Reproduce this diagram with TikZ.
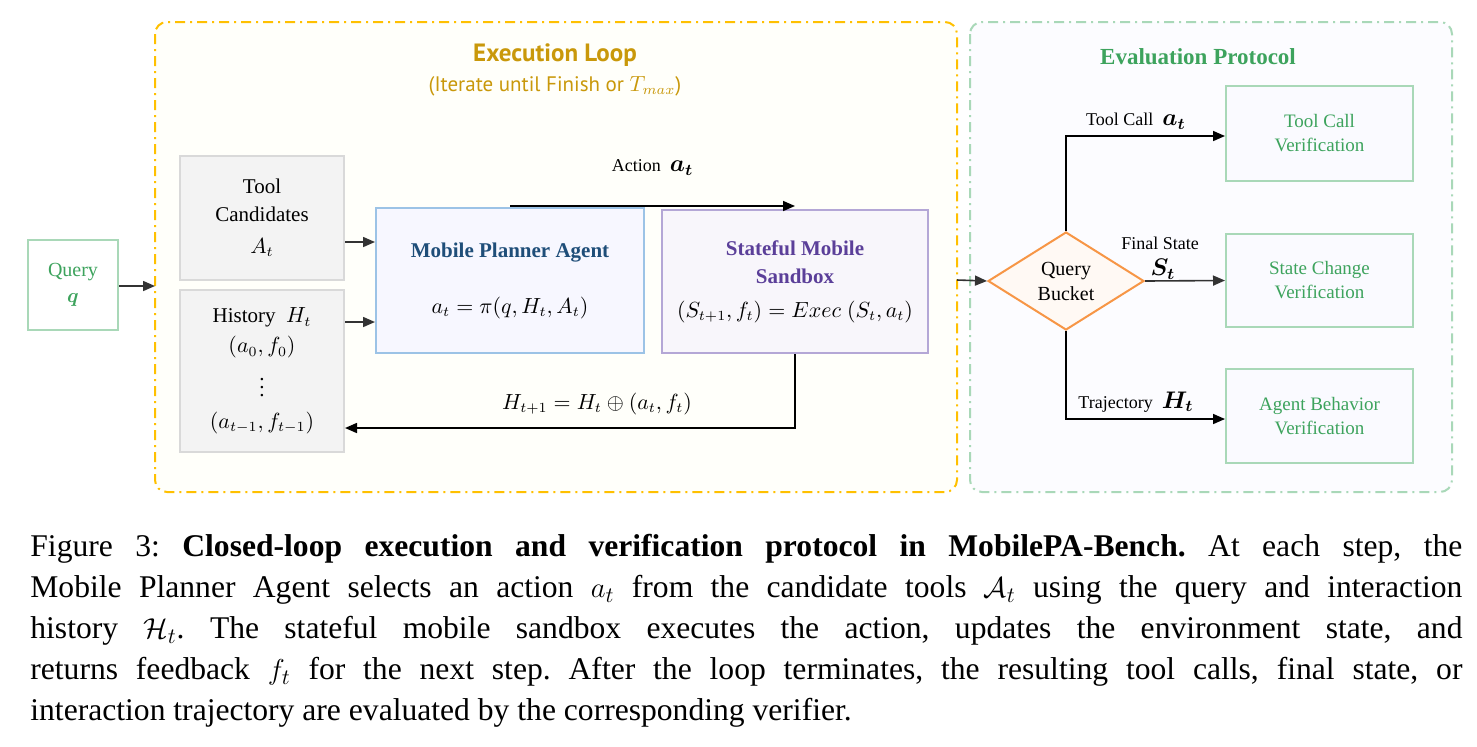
\documentclass[tikz,border=0pt]{standalone}
\usepackage{fontspec}
\usepackage{amsmath}
\setmainfont{Liberation Serif}
\newfontfamily\titlesans{PT Sans}
\usetikzlibrary{shapes.geometric,arrows.meta}
\definecolor{loopc}{HTML}{FFC000}
\definecolor{loopt}{HTML}{C9980A}
\definecolor{evalc}{HTML}{A9D8B8}
\definecolor{greent}{HTML}{3DA35D}
\definecolor{grayb}{HTML}{D9D9D9}
\definecolor{grayf}{HTML}{F3F3F3}
\definecolor{blueb}{HTML}{9CC3E6}
\definecolor{bluet}{HTML}{1F4E79}
\definecolor{purpb}{HTML}{B4A7D6}
\definecolor{purpt}{HTML}{5B3F99}
\definecolor{orng}{HTML}{F79646}
\definecolor{arr}{HTML}{333333}
\tikzset{
  box/.style={draw, line width=1pt, align=center, inner sep=2pt},
  gbox/.style={box, draw=grayb, fill=grayf, font=\fontsize{10.5}{14}\selectfont},
  vbox/.style={box, draw=evalc, fill=white!98!blue, text=greent, font=\fontsize{9.5}{12}\selectfont, minimum width=93.5pt},
  ar/.style={draw=arr, line width=0.8pt, -{Triangle[length=6pt,width=5pt]}},
  lab/.style={font=\fontsize{9}{11}\selectfont, inner sep=1pt},
  frame/.style={line width=1pt, rounded corners=6pt, dash pattern=on 5pt off 2.5pt on 1pt off 2.5pt}
}
\begin{document}
\frenchspacing
\begin{tikzpicture}[x=0.5pt,y=-0.5pt]
\useasboundingbox[fill=white] (0,0) rectangle (1477,746);
% frames
\draw[frame, draw=loopc, fill=white!98!yellow] (155,22) rectangle (957,492);
\draw[frame, draw=evalc, fill=white!99!blue] (970,22) rectangle (1452,492);
\node[text=loopt, font=\titlesans\bfseries\fontsize{12.5}{14}\selectfont] (t1) at (555,55) {Execution Loop};
\node[text=loopt, font=\titlesans\fontsize{10.5}{12}\selectfont] (t2) at (555,86) {(Iterate until Finish or $T_{max}$)};
\node[text=greent, font=\bfseries\fontsize{11.5}{14}\selectfont] (t3) at (1198,57) {Evaluation Protocol};
% nodes
\node[box, draw=evalc, fill=white, text=greent, minimum width=45pt, minimum height=45pt, font=\fontsize{10}{13}\selectfont] (q) at (73,285) {Query\\$\boldsymbol{q}$};
\node[gbox, minimum width=82pt, minimum height=62pt] (tc) at (262,218) {Tool\\Candidates\\[2pt]$A_t$};
\node[gbox, minimum width=82pt, minimum height=81pt, font=\fontsize{10.5}{15}\selectfont] (hi) at (262,371) {History\ \ $H_t$\\$(a_0,f_0)$\\[3pt]$\vdots$\\[1pt]$(a_{t-1},f_{t-1})$};
\node[box, draw=blueb, fill=white!97!blue, minimum width=134pt, minimum height=72.5pt, font=\fontsize{10.5}{14}\selectfont] (pa) at (510,280.5) {\textcolor{bluet}{\bfseries Mobile Planner Agent}\\[14pt]$a_t=\pi(q,H_t,A_t)$};
\node[box, draw=purpb, fill=purpb!10, minimum width=133pt, minimum height=71.5pt, font=\fontsize{10.5}{14}\selectfont] (sb) at (795,281.5) {\textcolor{purpt}{\bfseries Stateful Mobile}\\\textcolor{purpt}{\bfseries Sandbox}\\[3pt]$(S_{t+1},f_t)=Exec\;(S_t,a_t)$};
\node[draw=orng, line width=1pt, fill=orng!6, diamond, aspect=1.6, minimum width=78pt, minimum height=49pt, inner sep=0pt, align=center, font=\fontsize{10}{12.5}\selectfont] (qb) at (1066,281) {Query\\Bucket};
\node[vbox, minimum height=47.5pt] (v1) at (1319.5,133.5) {Tool Call\\Verification};
\node[vbox, minimum height=46.5pt] (v2) at (1319.5,280.5) {State Change\\Verification};
\node[vbox, minimum height=47pt] (v3) at (1319.5,416) {Agent Behavior\\Verification};
% loop connectors
\coordinate (lin) at (155,286);
\coordinate (lout) at (957,280);
\draw[ar] (q.east |- lin) -- (lin);
\draw[ar] (lout) -- (qb.west);
\draw[ar] (tc.east |- 0,242) -- (pa.west |- 0,242);
\draw[ar] (hi.east |- 0,322) -- (pa.west |- 0,322);
\draw[ar, draw=black] (pa.north) ++(0,-1) coordinate (a0) (a0) -- (sb.north |- a0) node[lab, pos=0.5, above=14pt, font=\fontsize{9}{11}\selectfont] (act) {Action\ \ \large$\boldsymbol{a_t}$};
\draw[ar, draw=black] (sb.south) |- (hi.east |- 0,428) node[pos=0.72, above=3pt, font=\fontsize{10.5}{12}\selectfont] (upd) {$H_{t+1}=H_t\oplus(a_t,f_t)$};
% eval connectors
\draw[ar, draw=black] (qb.north) |- (v1.west |- 0,136) node[lab, pos=0.72, above=2pt] (l1) {Tool Call\ \ \large$\boldsymbol{a_t}$};
\draw[ar] (qb.east) -- (v2.west) ;
\node[lab, anchor=south] (l2) at (1160,252) {Final State};
\node[font=\large, anchor=north] (l2b) at (1163,252) {$\boldsymbol{S_t}$};
\draw[ar, draw=black] (qb.south) |- (v3.west |- 0,419) node[lab, pos=0.72, above=2pt] (l3) {Trajectory\ \ \large$\boldsymbol{H_t}$};
% caption
\begin{scope}[font=\fontsize{15.8}{20}\selectfont]
\node[anchor=west, inner sep=0] (c1) at (30,549) {\makebox[716pt][s]{Figure 3: \textbf{Closed-loop execution and verification protocol in MobilePA-Bench.} At each step, the}};
\node[anchor=west, inner sep=0] (c2) at (30,590) {\makebox[716pt][s]{Mobile Planner Agent selects an action $a_t$ from the candidate tools $\mathcal{A}_t$ using the query and interaction}};
\node[anchor=west, inner sep=0] (c3) at (30,631) {\makebox[716pt][s]{history $\mathcal{H}_t$. The stateful mobile sandbox executes the action, updates the environment state, and}};
\node[anchor=west, inner sep=0] (c4) at (30,672) {\makebox[716pt][s]{returns feedback $f_t$ for the next step. After the loop terminates, the resulting tool calls, final state, or}};
\node[anchor=west, inner sep=0] (c5) at (30,713) {interaction trajectory are evaluated by the corresponding verifier.};
\end{scope}
\end{tikzpicture}
\end{document}
